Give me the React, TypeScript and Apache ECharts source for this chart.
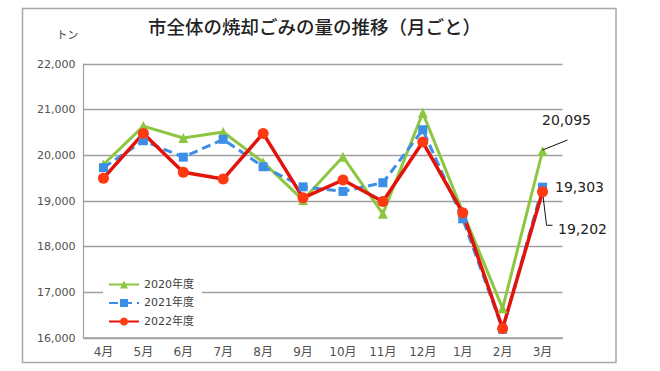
import React, { useEffect, useRef } from "react";
import * as echarts from "echarts";

const months = ["4月", "5月", "6月", "7月", "8月", "9月", "10月", "11月", "12月", "1月", "2月", "3月"];
const seriesNames = ["2020年度", "2021年度", "2022年度"];
const y2020 = [19800, 20640, 20380, 20510, 19850, 19020, 19970, 18720, 20930, 18760, 16650, 20095];
const y2021 = [19730, 20320, 19960, 20350, 19750, 19310, 19210, 19400, 20560, 18610, 16190, 19303];
const y2022 = [19500, 20480, 19630, 19480, 20480, 19070, 19460, 18990, 20290, 18740, 16210, 19202];
const yMin = 16000;
const yMax = 22000;
const yStep = 1000;
const titleText = "市全体の焼却ごみの量の推移（月ごと）";
const unitText = "トン";

const FONT = "'DejaVu Sans', 'Noto Sans CJK JP', sans-serif";
const CJK = "'Noto Sans CJK JP', sans-serif";
const fmt = (v: number) => v.toLocaleString("en-US");

const lastLabel = (arr: number[], label: any) =>
  arr.map((v, i) => (i === arr.length - 1 ? { value: v, label: { show: true, ...label } } : v));

export default function App() {
  const ref = useRef<HTMLDivElement>(null);
  useEffect(() => {
    if (!ref.current) return;
    const chart = echarts.init(ref.current, undefined, { renderer: "svg" });
    const annot = {
      formatter: (p: any) => fmt(p.value),
      fontSize: 14,
      color: "#222",
      fontFamily: FONT,
    };
    const border = {
      id: "border",
      type: "rect",
      silent: true,
      z: -10,
      shape: { x: 22.5, y: 8.5, width: 593.5, height: 354 },
      style: { fill: "none", stroke: "#a8a8a8", lineWidth: 1.5 },
    };
    chart.setOption({
      animation: false,
      backgroundColor: "#fff",
      textStyle: { fontFamily: FONT },
      title: {
        text: titleText,
        left: 148,
        top: 17,
        padding: 0,
        textStyle: { fontSize: 18.5, fontWeight: 500, color: "#222", fontFamily: CJK },
      },
      graphic: [border],
      legend: {
        orient: "vertical",
        left: 103,
        top: 274,
        padding: [5, 8, 5, 5],
        itemWidth: 30,
        itemHeight: 10,
        itemGap: 7.5,
        backgroundColor: "#fff",
        textStyle: { fontSize: 11, color: "#404040", fontFamily: FONT },
        data: seriesNames,
      },
      grid: { left: 83.5, right: 97.5, top: 64, bottom: 33 },
      xAxis: {
        type: "category",
        data: months,
        boundaryGap: true,
        axisLine: { lineStyle: { color: "#a0a0a0", width: 1.5 } },
        axisTick: { show: false },
        axisLabel: { fontSize: 12, color: "#505050", margin: 8, fontFamily: FONT },
      },
      yAxis: {
        type: "value",
        min: yMin,
        max: yMax,
        interval: yStep,
        name: unitText,
        nameLocation: "end",
        nameGap: 30,
        nameTextStyle: { fontSize: 11, color: "#404040", align: "right", verticalAlign: "middle", padding: [0, 5, 0, 0], fontFamily: CJK },
        axisLine: { show: true, lineStyle: { color: "#a0a0a0", width: 1.2 } },
        axisTick: { show: false },
        splitLine: { lineStyle: { color: "#a0a0a0", width: 1.3 } },
        axisLabel: { fontSize: 11, color: "#505050", margin: 8, formatter: (v: number) => fmt(v), fontFamily: FONT },
      },
      series: [
        {
          name: seriesNames[0],
          type: "line",
          data: lastLabel(y2020, { position: "top", offset: [24, -14], ...annot }),
          symbol: "triangle",
          symbolSize: 10,
          color: "#8DC641",
          lineStyle: { color: "#8DC641", width: 3 },
          itemStyle: { color: "#8DC641" },
        },
        {
          name: seriesNames[1],
          type: "line",
          data: lastLabel(y2021, { position: "right", distance: 8, ...annot }),
          symbol: "rect",
          symbolSize: 9,
          color: "#3B8FE6",
          lineStyle: { color: "#3B8FE6", width: 3, type: [9, 5] },
          itemStyle: { color: "#3B8FE6" },
        },
        {
          name: seriesNames[2],
          type: "line",
          data: lastLabel(y2022, { position: "right", distance: 5, offset: [5, 37], ...annot }),
          symbol: "circle",
          symbolSize: 11,
          color: "#E3120B",
          lineStyle: { color: "#E3120B", width: 3.5 },
          itemStyle: { color: "#FF3A12" },
        },
      ],
    });

    const last = months.length - 1;
    const pG = chart.convertToPixel({ xAxisIndex: 0, yAxisIndex: 0 }, [months[last], y2020[last]]) as number[];
    const pR = chart.convertToPixel({ xAxisIndex: 0, yAxisIndex: 0 }, [months[last], y2022[last]]) as number[];
    chart.setOption({
      graphic: [
        border,
        {
          id: "leaderG",
          type: "line",
          silent: true,
          z: 100,
          shape: { x1: pG[0], y1: pG[1] - 1, x2: pG[0] + 25, y2: pG[1] - 11 },
          style: { stroke: "#111", lineWidth: 1 },
        },
        {
          id: "leaderR",
          type: "polyline",
          silent: true,
          z: 1,
          shape: {
            points: [
              [pR[0], pR[1]],
              [pR[0] + 4, pR[1] + 33.5],
              [pR[0] + 10, pR[1] + 33.5],
            ],
          },
          style: { stroke: "#111", lineWidth: 1, fill: "none" },
        },
      ],
    });
    return () => chart.dispose();
  }, []);
  return (
    <div
      ref={ref}
      style={{ position: "fixed", left: 0, top: 0, width: 660, height: 371, background: "#fff" }}
    />
  );
}
